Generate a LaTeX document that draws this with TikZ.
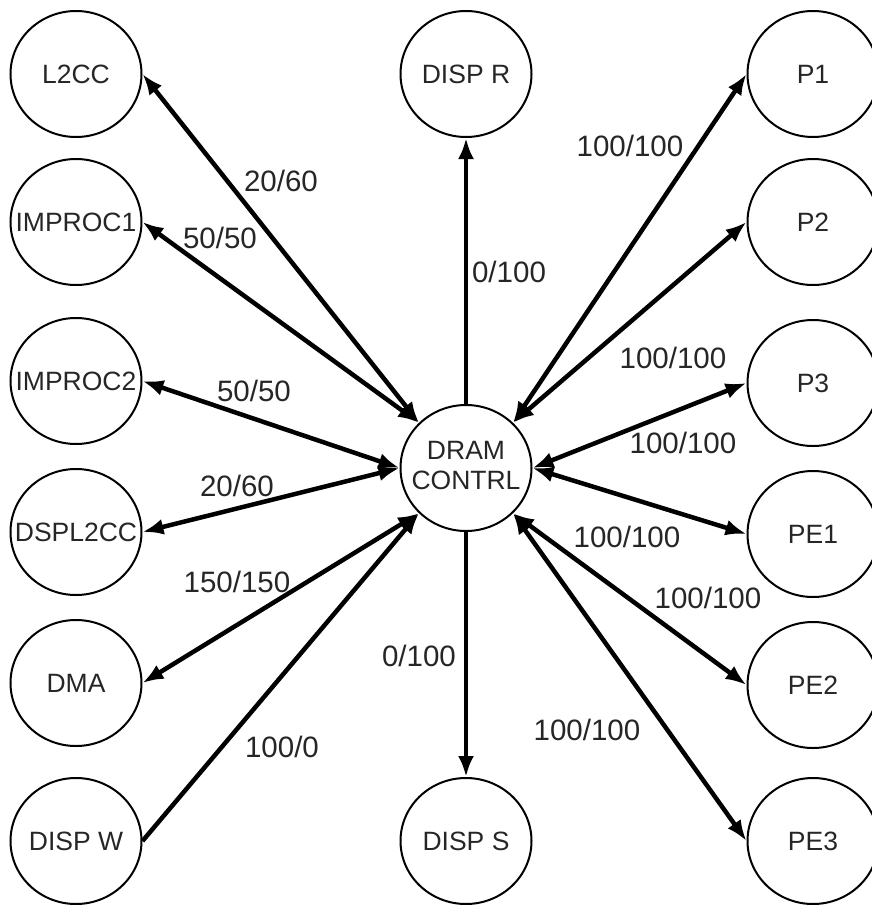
\documentclass[tikz,border=0pt]{standalone}
\usepackage{fontspec}
\setmainfont{Liberation Sans}
\usetikzlibrary{arrows.meta,shapes.geometric}
\newcommand{\ctext}[1]{\makebox[0pt][c]{#1}}
\begin{document}
\begin{tikzpicture}[x=1pt,y=-1pt,
  box/.style={ellipse,draw=black,line width=2pt,minimum width=131pt,minimum height=126pt,inner sep=0pt,
    font=\fontsize{26.5}{30}\selectfont,text=black!85},
  lbl/.style={font=\fontsize{29.5}{32}\selectfont,text=black!85,inner sep=0pt},
  link/.style={line width=4.5pt,draw=black},
  both/.style={link,{Latex[length=21pt,width=16pt]}-{Latex[length=21pt,width=16pt]}},
  one/.style={link,-{Latex[length=21pt,width=16pt]}}]
\useasboundingbox (0,0) rectangle (871,905);
% left column
\node[box] (l2cc)  at (76,74)  {\ctext{L2CC}};
\node[box] (imp1)  at (76,222) {\ctext{IMPROC1}};
\node[box] (imp2)  at (76,381) {\ctext{IMPROC2}};
\node[box] (dspl)  at (76,532) {\ctext{DSPL2CC}};
\node[box] (dma)   at (76,683) {\ctext{DMA}};
\node[box] (dispw) at (76,841) {\ctext{DISP W}};
% middle column
\node[box] (dispr) at (466,74)  {\ctext{DISP R}};
\node[box] (dram)  at (466,468) {\ctext{\begin{tabular}{@{}c@{}}DRAM\\CONTRL\end{tabular}}};
\node[box] (disps) at (466,841) {\ctext{DISP S}};
% right column
\node[box] (p1)  at (813,74)  {\ctext{P1}};
\node[box] (p2)  at (813,222) {\ctext{P2}};
\node[box] (p3)  at (813,383) {\ctext{P3}};
\node[box] (pe1) at (813,534) {\ctext{PE1}};
\node[box] (pe2) at (813,685) {\ctext{PE2}};
\node[box] (pe3) at (813,841) {\ctext{PE3}};
% connectors
\draw[both] (l2cc.east) -- (dram.north west);
\draw[both] (imp1.east) -- (dram.north west);
\draw[both] (imp2.east) -- (dram.west);
\draw[both] (dspl.east) -- (dram.west);
\draw[both] (dma.east) -- (dram.south west);
\draw[one] (dispw.east) -- (dram.south west);
\draw[one] (dram.north) -- (dispr.south);
\draw[one] (dram.south) -- (disps.north);
\draw[both] (dram.north east) -- (p1.west);
\draw[both] (dram.north east) -- (p2.west);
\draw[both] (dram.east) -- (p3.west);
\draw[both] (dram.east) -- (pe1.west);
\draw[both] (dram.south east) -- (pe2.west);
\draw[both] (dram.south east) -- (pe3.west);
% labels
\node[lbl] (t1)  at (281,181) {20/60};
\node[lbl] (t2)  at (220,238) {50/50};
\node[lbl] (t3)  at (509,272) {0/100};
\node[lbl] (t4)  at (630,146) {100/100};
\node[lbl] (t5)  at (254,391) {50/50};
\node[lbl] (t6)  at (237,486) {20/60};
\node[lbl] (t7)  at (673,358) {100/100};
\node[lbl] (t8)  at (683,443) {100/100};
\node[lbl] (t9)  at (627,537) {100/100};
\node[lbl] (t10) at (237,582) {150/150};
\node[lbl] (t11) at (708,598) {100/100};
\node[lbl] (t12) at (419,656) {0/100};
\node[lbl] (t13) at (282,747) {100/0};
\node[lbl] (t14) at (587,730) {100/100};
\end{tikzpicture}
\end{document}
